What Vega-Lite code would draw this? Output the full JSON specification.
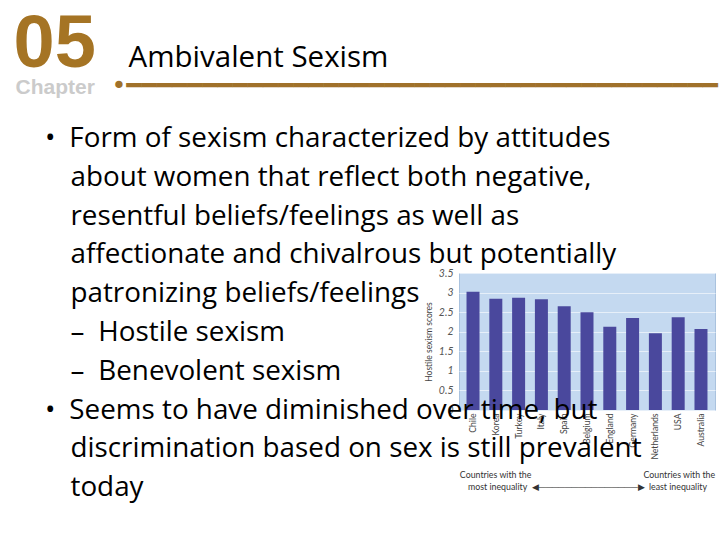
{
  "$schema": "https://vega.github.io/schema/vega-lite/v6.json",
  "autosize": "none",
  "width": 256,
  "height": 137,
  "padding": {"left": 459, "top": 273, "right": 5, "bottom": 130},
  "background": "white",
  "title": {
    "text": "\u200b\u2003\u2003\u2002\u2009\u2009Ambivalent Sexism",
    "subtitle": [
      "•\u2002Form of sexism characterized by attitudes",
      "\u200b\u2002\u2005\u2006about women that reflect both negative,",
      "\u200b\u2002\u2005\u2006resentful beliefs/feelings as well as",
      "\u200b\u2002\u2005\u2006affectionate and chivalrous but potentially",
      "\u200b\u2002\u2005\u2006patronizing beliefs/feelings",
      "\u200b\u2002\u2005\u2006–\u2002Hostile sexism",
      "\u200b\u2002\u2005\u2006–\u2002Benevolent sexism",
      "•\u2002Seems to have diminished over time, but",
      "\u200b\u2002\u2005\u2006discrimination based on sex is still prevalent",
      "\u200b\u2002\u2005\u2006today"
    ],
    "anchor": "start",
    "frame": "group",
    "dx": -414,
    "offset": -496,
    "font": "Open Sans",
    "fontSize": 29.5,
    "fontWeight": "normal",
    "color": "#000000",
    "subtitleFont": "Open Sans",
    "subtitleFontSize": 27.8,
    "subtitleColor": "#000000",
    "subtitleLineHeight": 38.8,
    "subtitlePadding": 52
  },
  "data": {
    "values": [
      {"country": "Chile", "score": 3.02},
      {"country": "Korea", "score": 2.84},
      {"country": "Turkey", "score": 2.87},
      {"country": "Italy", "score": 2.83},
      {"country": "Spain", "score": 2.65},
      {"country": "Belgium", "score": 2.5},
      {"country": "England", "score": 2.13},
      {"country": "Germany", "score": 2.35},
      {"country": "Netherlands", "score": 1.96},
      {"country": "USA", "score": 2.37},
      {"country": "Australia", "score": 2.07}
    ]
  },
  "layer": [
    {
      "mark": {"type": "bar", "color": "#4a489d"},
      "encoding": {
        "x": {
          "field": "country",
          "type": "nominal",
          "sort": null,
          "scale": {"paddingInner": 0.43, "paddingOuter": 0.33},
          "axis": {
            "orient": "bottom",
            "labelAngle": -90,
            "labelFont": "Lato",
            "labelFontSize": 8.6,
            "labelColor": "#444444",
            "labelPadding": 3,
            "ticks": false,
            "domain": false,
            "title": [
              "Countries with the\u2003\u2003\u2003\u2003\u2003\u2003\u2003\u2003\u2003\u2003\u2003\u2003\u2003\u2003\u2003\u2003\u2003Countries with the",
              "most inequality\u2002◀───────────────▶\u2002least inequality"
            ],
            "titleFont": "Lato",
            "titleFontSize": 8.8,
            "titleFontWeight": "normal",
            "titleColor": "#333333",
            "titleLineHeight": 12,
            "titleAlign": "center",
            "titleBaseline": "alphabetic",
            "titleX": 128,
            "titleY": 67
          }
        },
        "y": {
          "field": "score",
          "type": "quantitative",
          "scale": {"domain": [0, 3.5]},
          "axis": {
            "orient": "left",
            "values": [0, 0.5, 1, 1.5, 2, 2.5, 3, 3.5],
            "format": ".1~f",
            "labelFont": "Lato",
            "labelFontStyle": "italic",
            "labelFontSize": 10.5,
            "labelColor": "#555555",
            "labelPadding": 6,
            "ticks": false,
            "domain": false,
            "grid": true,
            "gridColor": "#e6eff9",
            "gridWidth": 1.2,
            "title": "Hostile sexism scores",
            "titleFont": "Lato",
            "titleFontSize": 8.5,
            "titleFontWeight": "normal",
            "titleColor": "#444444",
            "titlePadding": 5
          }
        }
      }
    },
    {
      "mark": {"type": "bar", "opacity": 0},
      "encoding": {
        "x": {
          "field": "country",
          "type": "nominal",
          "sort": null,
          "axis": {
            "orient": "top",
            "labels": false,
            "ticks": false,
            "domain": false,
            "grid": false,
            "title": "05",
            "titleFont": "Liberation Sans",
            "titleFontSize": 74,
            "titleFontWeight": "bold",
            "titleColor": "#a57424",
            "titleAlign": "left",
            "titleBaseline": "alphabetic",
            "titleX": -446,
            "titleY": -207
          }
        },
        "y": {
          "field": "score",
          "type": "quantitative",
          "axis": {
            "orient": "right",
            "labels": false,
            "ticks": false,
            "domain": false,
            "grid": false,
            "title": "Chapter",
            "titleAngle": 0,
            "titleFont": "Liberation Sans",
            "titleFontSize": 21,
            "titleFontWeight": "bold",
            "titleColor": "#cbcbcb",
            "titleAlign": "left",
            "titleBaseline": "alphabetic",
            "titleX": -700,
            "titleY": -180
          }
        }
      }
    },
    {
      "mark": {"type": "bar", "opacity": 0},
      "encoding": {
        "x": {
          "field": "country",
          "type": "nominal",
          "sort": null,
          "axis": {
            "orient": "top",
            "labels": false,
            "ticks": false,
            "domain": false,
            "grid": false,
            "title": "•━━━━━━━━━━━━━━━━━━━━━━━━━━━━━━━━━━━━━━━",
            "titleFont": "DejaVu Sans",
            "titleFontSize": 25.2,
            "titleFontWeight": "normal",
            "titleColor": "#a0712a",
            "titleAlign": "left",
            "titleBaseline": "alphabetic",
            "titleX": -348,
            "titleY": -179.5
          }
        },
        "y": {"field": "score", "type": "quantitative", "axis": null}
      }
    }
  ],
  "resolve": {"axis": {"x": "independent", "y": "independent"}},
  "config": {
    "view": {"fill": "#c4d9f0", "stroke": "#a9c2de"}
  }
}
